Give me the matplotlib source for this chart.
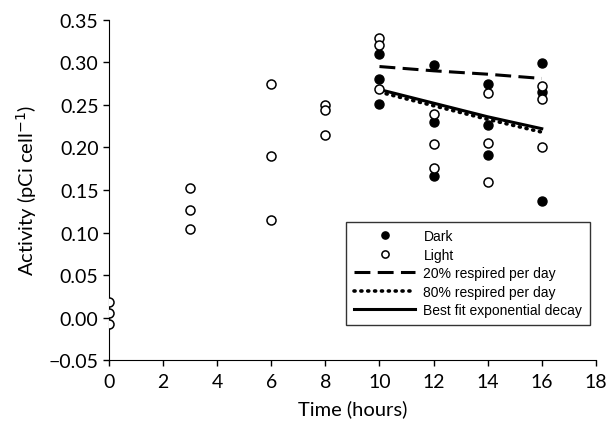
import matplotlib
matplotlib.use("Agg")
import matplotlib.pyplot as plt
import numpy as np

# light-grown samples (open circles)
light_t = [0, 0, 0, 3, 3, 3, 6, 6, 6, 8, 8, 8,
           10, 10, 10, 12, 12, 12, 14, 14, 14, 16, 16, 16]
light_v = [0.019, 0.006, -0.007, 0.152, 0.127, 0.104, 0.274, 0.190, 0.115,
           0.250, 0.244, 0.215, 0.328, 0.320, 0.269, 0.239, 0.204, 0.176,
           0.264, 0.205, 0.159, 0.272, 0.257, 0.201]

# dark samples (filled circles)
dark_t = [10, 10, 10, 12, 12, 12, 14, 14, 14, 16, 16, 16]
dark_v = [0.310, 0.280, 0.251, 0.297, 0.230, 0.167,
          0.275, 0.226, 0.191, 0.299, 0.265, 0.137]

# model lines
fit_t = [10, 12, 14, 16]
resp20 = [0.295, 0.290, 0.286, 0.281]
resp80 = [0.265, 0.249, 0.233, 0.218]
bestfit = [0.268, 0.252, 0.236, 0.222]

plt.rcParams['font.family'] = ['Lato', 'DejaVu Sans']

fig = plt.figure(figsize=(6.08, 4.27), dpi=100)
ax = fig.add_axes([0.1793, 0.1539, 0.8007, 0.7976])

ax.plot(fit_t, resp20, color='black', lw=2.2, dashes=(5.2, 2.4),
        label='20% respired per day', zorder=2)
ax.plot(fit_t, resp80, color='black', lw=2.6, dashes=(0.3, 1.6),
        dash_capstyle='round', label='80% respired per day', zorder=2)
ax.plot(fit_t, bestfit, color='black', lw=2.2,
        label='Best fit exponential decay', zorder=2)

ax.plot(dark_t, dark_v, 'o', color='black', ms=6.5, label='Dark', zorder=3)
ax.plot(light_t, light_v, 'o', mfc='white', mec='black', mew=1.1, ms=6.5,
        label='Light', zorder=3)

ax.set_xlim(0, 18)
ax.set_ylim(-0.05, 0.35)
ax.set_xticks(np.arange(0, 19, 2))
ax.set_yticks(np.arange(-0.05, 0.36, 0.05))
ax.set_yticklabels([f"{v:.2f}".replace('-', '\u2212') for v in np.arange(-0.05, 0.36, 0.05)])
ax.spines['top'].set_visible(False)
ax.spines['right'].set_visible(False)
ax.tick_params(direction='out', length=4, width=1, labelsize=14)
ax.tick_params(axis='x', pad=5)
ax.set_xlabel('Time (hours)', fontsize=14.5, labelpad=7)
ax.set_ylabel('Activity (pCi cell$^{-1}$)', fontsize=14.5, labelpad=7)

h, l = ax.get_legend_handles_labels()
order = [3, 4, 0, 1, 2]
leg = ax.legend([h[i] for i in order], [l[i] for i in order],
                loc='upper right', bbox_to_anchor=(0.988, 0.407),
                prop={'family': 'Liberation Sans', 'size': 10},
                frameon=True, fancybox=False, edgecolor='black',
                handlelength=4.4, handletextpad=0.6, labelspacing=0.32,
                borderpad=0.55, borderaxespad=0, markerscale=0.8)
leg.get_frame().set_linewidth(1.0)

fig.savefig('out.png', dpi=100)
